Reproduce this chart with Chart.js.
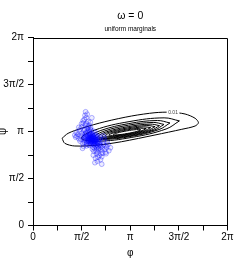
<!DOCTYPE html>
<html><head><meta charset="utf-8">
<script src="https://cdn.jsdelivr.net/npm/chart.js@4.4.1/dist/chart.umd.min.js"></script>
<style>html,body{margin:0;padding:0;background:#fff;} canvas{display:block;}</style>
</head><body>
<canvas id="c" width="245" height="273"></canvas>
<script>
const PI = Math.PI;
const tickValues = [0, PI/4, PI/2, 3*PI/4, PI, 5*PI/4, 3*PI/2, 7*PI/4, 2*PI];
const tickLabels = ['0','','π/2','','π','','3π/2','','2π'];
const titleText = 'ω = 0';
const subtitleText = 'uniform marginals';
const xTitle = 'φ';
const yTitle = 'ψ';
const contourLabel = {text: '0.01', x: 4.524, y: 3.777};

const samples = [
[1.88,2.91],[1.92,2.86],[1.85,2.95],[1.95,2.83],[1.90,2.90],[1.82,2.98],[1.97,2.79],[1.87,2.84],[1.93,2.94],[1.80,2.90],
[1.99,2.88],[1.86,3.02],[1.94,2.76],[1.89,2.80],[1.83,2.87],[1.96,2.92],[1.91,2.99],[1.78,3.00],[2.01,2.81],[1.88,2.73],
[1.84,3.05],[1.98,2.70],[1.92,3.03],[1.86,2.78],[1.95,2.97],[1.81,2.93],[2.03,2.86],[1.89,2.96],[1.93,2.82],[1.87,3.08],
[1.99,2.74],[1.79,2.85],[1.96,2.86],[1.84,2.80],[1.90,2.77],[2.02,2.93],[1.82,3.10],[1.94,2.90],[1.88,2.87],[1.97,2.71],
[1.85,2.89],[1.91,2.84],[1.76,2.96],[2.05,2.78],[1.93,3.06],[1.87,2.99],[2.00,2.83],[1.83,3.01],[1.95,2.80],[1.89,2.93],
[1.70,2.84],[2.10,2.88],[1.68,2.98],[2.12,2.80],[1.74,2.72],[2.06,3.00],[1.72,3.02],[2.08,2.72],[1.78,2.92],[2.04,2.84],
[1.66,2.78],[2.16,2.96],[1.80,2.80],[2.00,2.96],[1.75,2.88],[2.07,2.77],[1.73,2.66],[2.03,2.90],[1.84,2.92],[1.98,2.84],
[1.86,2.86],[1.92,2.92],[1.90,2.82],[1.94,2.87],[1.87,2.95],[1.81,2.83],[1.99,2.79],[1.85,2.76],[1.96,2.95],[1.91,2.88],
[1.72,3.12],[2.10,2.65],[1.70,2.88],[2.08,2.95],[1.75,3.25],[2.12,2.55],[1.68,3.05],[2.06,2.60],[1.80,3.20],[2.15,2.72],
[1.74,2.78],[2.02,3.10],[1.65,3.18],[2.18,2.62],[1.78,3.30],[2.04,2.50],[1.71,2.95],[2.11,2.82],[1.85,3.22],[1.98,2.58],
[1.66,2.92],[2.14,2.90],[1.77,3.15],[2.07,2.68],[1.69,3.35],[2.20,2.52],[1.82,2.68],[1.96,3.15],[1.73,3.40],[2.09,2.45],
[1.62,3.02],[2.16,2.78],[1.79,2.70],[2.01,3.02],[1.86,3.28],[1.94,2.62],[1.67,3.22],[2.13,2.58],[1.81,3.35],[2.05,2.40],
[1.76,2.82],[2.00,2.66],[1.70,3.08],[2.10,2.75],[1.83,3.14],[1.92,2.55],[1.64,2.85],[2.17,2.68],[1.88,3.18],[1.97,2.48],
[1.58,3.30],[2.25,2.42],[1.55,2.98],[2.28,2.70],[1.62,3.50],[2.22,2.30],[1.72,3.60],[2.10,2.28],[1.50,3.15],[2.32,2.55],
[1.60,2.75],[2.30,2.88],[1.78,3.48],[2.02,2.25],[1.45,3.05],[2.38,2.62],[1.68,3.68],[2.18,2.20],[1.52,2.82],[2.26,3.00],
[1.66,3.55],[2.14,2.35],[1.85,3.45],[1.95,2.35],[1.57,3.40],[2.35,2.45],[1.75,3.72],[2.08,2.15],[1.48,2.90],[2.40,2.78],
[1.40,3.10],[2.45,2.50],[1.63,2.65],[1.90,3.60],[2.00,2.10],[1.70,3.80],[1.38,2.95],[2.22,2.05],
[1.55,2.88],[2.28,2.80],[1.58,3.08],[2.24,2.60],[1.52,3.22],[2.34,2.66],[1.60,2.58],[2.30,2.95],[1.42,2.98],[2.42,2.70],
[1.48,3.28],[2.36,2.40],[1.35,3.02],[2.50,2.60],[1.62,3.42],[2.20,2.40]
];

// density contours (phi, psi), outermost first
const contour1 = [[0.939,2.914],[1.134,3.081],[1.568,3.249],[2.322,3.469],[3.187,3.660],[3.941,3.770],[4.45,3.785],[4.913,3.726],[5.237,3.583],[5.344,3.436],[5.237,3.325],[4.806,3.215],[3.941,3.025],[2.863,2.801],[2.105,2.690],[1.351,2.657],[1.027,2.747],[0.939,2.914]];
const contour2 = [[4.730,3.496],[4.298,3.225],[3.193,2.945],[2.061,2.818],[1.566,2.920],[1.998,3.191],[3.103,3.471],[4.235,3.598],[4.730,3.496]];
const contour3 = [[4.424,3.427],[4.071,3.207],[3.169,2.978],[2.244,2.875],[1.840,2.957],[2.193,3.177],[3.096,3.406],[4.020,3.509],[4.424,3.427]];
const contour4 = [[4.232,3.378],[3.927,3.193],[3.146,2.997],[2.349,2.906],[2.000,2.972],[2.306,3.157],[3.086,3.353],[3.884,3.444],[4.232,3.378]];
const contour5 = [[4.088,3.338],[3.816,3.183],[3.124,3.013],[2.417,2.928],[2.110,2.978],[2.382,3.133],[3.074,3.303],[3.781,3.388],[4.088,3.338]];
const contour6 = [[3.944,3.305],[3.706,3.177],[3.103,3.033],[2.488,2.956],[2.222,2.991],[2.461,3.119],[3.063,3.263],[3.678,3.340],[3.944,3.305]];
const contour7 = [[3.801,3.271],[3.597,3.169],[3.082,3.049],[2.559,2.981],[2.333,3.005],[2.537,3.107],[3.052,3.227],[3.575,3.295],[3.801,3.271]];
const contour8 = [[3.657,3.238],[3.487,3.159],[3.062,3.062],[2.631,3.004],[2.445,3.018],[2.615,3.097],[3.040,3.194],[3.471,3.252],[3.657,3.238]];
const contour9 = [[3.482,3.199],[3.356,3.145],[3.042,3.075],[2.724,3.030],[2.588,3.037],[2.714,3.091],[3.028,3.161],[3.346,3.206],[3.482,3.199]];
const contours = [contour1, contour2, contour3, contour4, contour5, contour6, contour7, contour8, contour9];

const FONT = '"Liberation Sans", Arial, Helvetica, sans-serif';
const toXY = arr => arr.map(p => ({x: p[0], y: p[1]}));

const datasets = [{
  data: toXY(samples), order: 0,
  pointStyle: 'circle', pointRadius: 2.4, pointBorderWidth: 0.8,
  pointBackgroundColor: 'rgba(0,0,255,0.07)', pointBorderColor: 'rgba(0,0,255,0.38)',
  showLine: false
}];
contours.forEach((c, i) => datasets.push({
  data: toXY(c), order: 1, showLine: true, pointRadius: 0, pointHoverRadius: 0,
  borderColor: '#000', borderWidth: 1, tension: i === 0 ? 0.3 : 0.4, fill: false
}));

const decor = {
  id: 'decor',
  afterDatasetsDraw(chart) {
    const {ctx, scales: {x, y}} = chart;
    const px = x.getPixelForValue(contourLabel.x), py = y.getPixelForValue(contourLabel.y);
    ctx.save();
    ctx.font = '5px ' + FONT;
    const w = ctx.measureText(contourLabel.text).width;
    ctx.fillStyle = '#fff';
    ctx.fillRect(px - w/2 - 1.5, py - 3, w + 3, 6);
    ctx.fillStyle = '#444'; ctx.textAlign = 'center'; ctx.textBaseline = 'middle';
    ctx.fillText(contourLabel.text, px, py);
    ctx.restore();
  },
  afterDraw(chart) {
    const {ctx, chartArea: a} = chart;
    ctx.save();
    ctx.strokeStyle = '#000'; ctx.lineWidth = 1;
    const t = Math.round(a.top) + 0.5, r = Math.round(a.right) - 0.5;
    ctx.beginPath();
    ctx.moveTo(a.left, t); ctx.lineTo(r, t); ctx.lineTo(r, a.bottom);
    ctx.stroke();
    const cx = (a.left + a.right) / 2;
    ctx.fillStyle = '#000'; ctx.textAlign = 'center'; ctx.textBaseline = 'middle';
    ctx.font = '10.5px ' + FONT;
    ctx.fillText(titleText, cx, 16);
    ctx.font = '6.5px ' + FONT;
    ctx.fillText(subtitleText, cx, 29.5);
    ctx.font = '10px ' + FONT;
    ctx.fillText(xTitle, cx, 253.5);
    ctx.translate(3.5, (a.top + a.bottom) / 2);
    ctx.rotate(-Math.PI / 2);
    ctx.fillText(yTitle, 0, 0);
    ctx.restore();
  }
};

const axisCommon = {
  type: 'linear', min: 0, max: 2 * PI,
  afterBuildTicks: s => { s.ticks = tickValues.map(v => ({value: v})); },
  grid: {drawOnChartArea: false, drawTicks: true, tickLength: 5, color: '#000', tickWidth: 1},
  border: {display: true, color: '#000', width: 1}
};

new Chart(document.getElementById('c'), {
  type: 'scatter',
  data: {datasets},
  plugins: [decor],
  options: {
    responsive: false, animation: false, devicePixelRatio: 1,
    layout: {padding: {top: 37.5, right: 17.5, left: 0, bottom: 0}},
    plugins: {legend: {display: false}, tooltip: {enabled: false}, title: {display: false}},
    scales: {
      x: Object.assign({}, axisCommon, {
        position: 'bottom',
        afterFit: s => { s.height = 47.5; },
        ticks: {autoSkip: false, maxRotation: 0, padding: 1, color: '#000', font: {family: FONT, size: 10},
                callback: (v, i) => tickLabels[i]}
      }),
      y: Object.assign({}, axisCommon, {
        position: 'left',
        afterFit: s => { s.width = 33; },
        ticks: {autoSkip: false, padding: 4, color: '#000', font: {family: FONT, size: 10},
                callback: (v, i) => tickLabels[i]}
      })
    }
  }
});
</script>
</body></html>
